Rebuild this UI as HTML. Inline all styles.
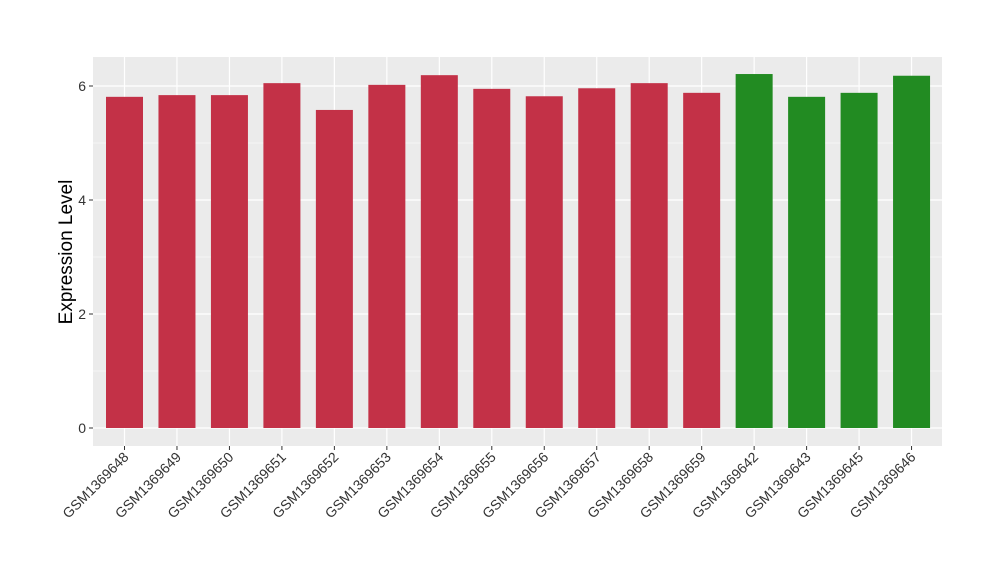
<!DOCTYPE html>
<html><head><meta charset="utf-8"><style>
body{margin:0;background:#fff;font-family:"Liberation Sans",sans-serif;}
</style></head><body>
<svg id="chart" width="1000" height="580" xmlns="http://www.w3.org/2000/svg">
<rect width="1000" height="580" fill="#fff"/>
<rect x="93" y="57" width="849" height="389" fill="#ebebeb"/>
<g id="grid"></g><g id="bars"></g><g id="axes"></g>
<text transform="translate(72,252) rotate(-90)" text-anchor="middle" font-size="19" fill="#000">Expression Level</text>
</svg>
<script>
const categories=["GSM1369648","GSM1369649","GSM1369650","GSM1369651","GSM1369652","GSM1369653","GSM1369654","GSM1369655","GSM1369656","GSM1369657","GSM1369658","GSM1369659","GSM1369642","GSM1369643","GSM1369645","GSM1369646"];
const values=[5.81,5.84,5.84,6.05,5.58,6.02,6.19,5.95,5.82,5.96,6.05,5.88,6.21,5.81,5.88,6.18];
const groups=["a","a","a","a","a","a","a","a","a","a","a","a","b","b","b","b"];
const yTicks=[0,2,4,6];
const ns="http://www.w3.org/2000/svg";
const y=v=>428-v*57;
const x=i=>124.5+i*52.47;
const bw=37;
const colors={a:"#c33147",b:"#228b22"};
function mk(t,a,p){const e=document.createElementNS(ns,t);for(const k in a)e.setAttribute(k,a[k]);p.appendChild(e);return e;}
const grid=document.getElementById('grid'),bars=document.getElementById('bars'),axes=document.getElementById('axes');
for(let k=0;k<yTicks.length;k++){
 const v=yTicks[k];
 const g=mk('line',{x1:93,x2:942,y1:y(v),y2:y(v),stroke:'#fff','stroke-width':1.2},grid);
 
 
 if(k<yTicks.length-1){const m=mk('line',{x1:93,x2:942,y1:y(v+1),y2:y(v+1),stroke:'#fff','stroke-width':0.6},grid);
 
 }
 const t=mk('line',{x1:89,x2:93,y1:y(v),y2:y(v),stroke:'#333','stroke-width':1},axes);
 
 
 const l=mk('text',{x:86,y:y(v)+5,'text-anchor':'end','font-size':14,fill:'#333'},axes);
 l.textContent=v;
 
 
}
categories.forEach((c,i)=>{
 const g=mk('line',{x1:x(i),x2:x(i),y1:57,y2:446,stroke:'#fff','stroke-width':1.2},grid);
 
 
 const b=mk('rect',{x:x(i)-bw/2,y:y(values[i]),width:bw,height:y(0)-y(values[i]),fill:colors[groups[i]]},bars);
 
 
 const t=mk('line',{x1:x(i),x2:x(i),y1:446,y2:450,stroke:'#333','stroke-width':1},axes);
 
 
 const l=mk('text',{transform:`translate(${x(i)+5},${458}) rotate(-45)`,'text-anchor':'end','font-size':14,fill:'#333'},axes);
 l.textContent=c;
 
 
});
</script>
</body></html>
